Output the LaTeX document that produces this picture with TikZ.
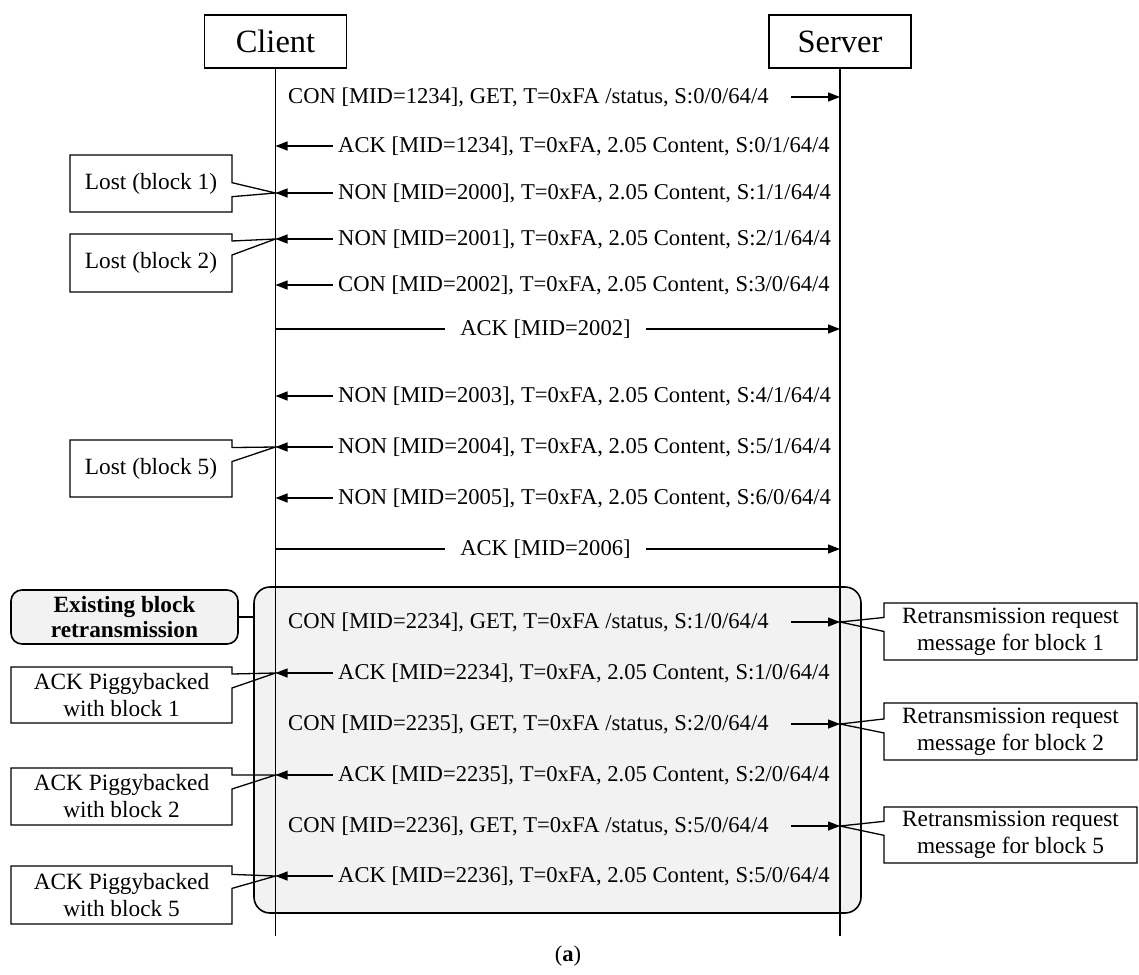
\documentclass[tikz,border=0pt]{standalone}
\usepackage{fontspec}
\setmainfont{Liberation Serif}
\usetikzlibrary{shapes.callouts, arrows.meta, positioning}
\definecolor{groupgray}{HTML}{F2F2F2}
\tikzstyle{party} = [
  rectangle,
  minimum width=142pt,
  minimum height=53pt,
  text centered,
  draw=black,
  line width=1.6pt,
  inner sep=0,
  font=\fontsize{32.5}{36}\selectfont
]
\tikzstyle{msg} = [
  inner xsep=5pt,
  inner ysep=0,
  font=\fontsize{22.6}{26}\selectfont
]
\tikzstyle{callnote} = [
  rectangle callout,
  minimum height=57pt,
  text centered,
  align=center,
  draw=black,
  line width=1.3pt,
  inner sep=0,
  callout pointer width=14pt,
  font=\fontsize{23.3}{27}\selectfont
]
\tikzstyle{groupbox} = [
  rectangle,
  rounded corners=16pt,
  draw=black,
  line width=1.6pt,
  fill=groupgray,
  inner sep=0
]
\tikzstyle{grouplabel} = [
  rectangle,
  rounded corners=11pt,
  minimum width=227pt,
  minimum height=54pt,
  align=center,
  draw=black,
  line width=1.6pt,
  fill=groupgray,
  inner sep=0,
  font=\fontsize{23.3}{25}\selectfont\bfseries
]
\tikzstyle{lifeline} = [line width=1.3pt]
\tikzstyle{msgline} = [line width=1.3pt]
\tikzstyle{msgarrow} = [
  line width=1.3pt,
  -{Triangle[length=12pt,width=9pt]}
]

\begin{document}
\begin{tikzpicture}[x=1pt,y=-1pt]
      \useasboundingbox (0,0) rectangle (1139,974);

      \node [groupbox, minimum width=607pt, minimum height=326pt] (retx group) at (557.5,750) {};
      \node [grouplabel] (retx label) at (124.5,617) {Existing block\\retransmission};
      \draw [msgline] (retx label.east) -- (retx label.east -| retx group.west);

      \node [party] (client) at (275.5,41.5) {Client};
      \node [party] (server) at (840,41.5) {Server};
      \coordinate (client end) at (275.5,936);
      \coordinate (server end) at (840,936);
      \draw [lifeline] (client) -- (client end);
      \draw [lifeline] (server) -- (server end);

      \node [msg, anchor=west] (get1234) at (283,97) {CON [MID=1234], GET, T=0xFA /status, S:0/0/64/4};
      \node [msg, anchor=west] (ack1234) at (333,146) {ACK [MID=1234], T=0xFA, 2.05 Content, S:0/1/64/4};
      \node [msg, anchor=west] (non2000) at (333,193) {NON [MID=2000], T=0xFA, 2.05 Content, S:1/1/64/4};
      \node [msg, anchor=west] (non2001) at (333,239) {NON [MID=2001], T=0xFA, 2.05 Content, S:2/1/64/4};
      \node [msg, anchor=west] (con2002) at (333,285) {CON [MID=2002], T=0xFA, 2.05 Content, S:3/0/64/4};
      \node [msg, inner xsep=15pt] (ack2002) at (545.5,329) {ACK [MID=2002]};
      \node [msg, anchor=west] (non2003) at (333,396) {NON [MID=2003], T=0xFA, 2.05 Content, S:4/1/64/4};
      \node [msg, anchor=west] (non2004) at (333,447) {NON [MID=2004], T=0xFA, 2.05 Content, S:5/1/64/4};
      \node [msg, anchor=west] (non2005) at (333,498) {NON [MID=2005], T=0xFA, 2.05 Content, S:6/0/64/4};
      \node [msg, inner xsep=15pt] (ack2006) at (545.5,549) {ACK [MID=2006]};
      \node [msg, anchor=west] (get2234) at (283,622) {CON [MID=2234], GET, T=0xFA /status, S:1/0/64/4};
      \node [msg, anchor=west] (ack2234) at (333,673) {ACK [MID=2234], T=0xFA, 2.05 Content, S:1/0/64/4};
      \node [msg, anchor=west] (get2235) at (283,724) {CON [MID=2235], GET, T=0xFA /status, S:2/0/64/4};
      \node [msg, anchor=west] (ack2235) at (333,775) {ACK [MID=2235], T=0xFA, 2.05 Content, S:2/0/64/4};
      \node [msg, anchor=west] (get2236) at (283,826) {CON [MID=2236], GET, T=0xFA /status, S:5/0/64/4};
      \node [msg, anchor=west] (ack2236) at (333,876) {ACK [MID=2236], T=0xFA, 2.05 Content, S:5/0/64/4};

      \draw [msgarrow] ([xshift=17pt]get1234.east) -- (get1234.east -| server end);
      \draw [msgarrow] (ack1234.west) -- (ack1234.west -| client end);
      \draw [msgarrow] (non2000.west) -- (non2000.west -| client end);
      \draw [msgarrow] (non2001.west) -- (non2001.west -| client end);
      \draw [msgarrow] (con2002.west) -- (con2002.west -| client end);
      \draw [msgline] (ack2002.west -| client end) -- (ack2002.west);
      \draw [msgarrow] (ack2002.east) -- (ack2002.east -| server end);
      \draw [msgarrow] (non2003.west) -- (non2003.west -| client end);
      \draw [msgarrow] (non2004.west) -- (non2004.west -| client end);
      \draw [msgarrow] (non2005.west) -- (non2005.west -| client end);
      \draw [msgline] (ack2006.west -| client end) -- (ack2006.west);
      \draw [msgarrow] (ack2006.east) -- (ack2006.east -| server end);
      \draw [msgarrow] ([xshift=17pt]get2234.east) -- (get2234.east -| server end);
      \draw [msgarrow] (ack2234.west) -- (ack2234.west -| client end);
      \draw [msgarrow] ([xshift=17pt]get2235.east) -- (get2235.east -| server end);
      \draw [msgarrow] (ack2235.west) -- (ack2235.west -| client end);
      \draw [msgarrow] ([xshift=17pt]get2236.east) -- (get2236.east -| server end);
      \draw [msgarrow] (ack2236.west) -- (ack2236.west -| client end);

      \node [callnote, minimum width=162pt, callout absolute pointer={(non2000.west -| client end)}] (lost1) at (151,183.5) {Lost (block 1)};
      \node [callnote, minimum width=162pt, minimum height=58pt, callout absolute pointer={(non2001.west -| client end)}] (lost2) at (151,263) {Lost (block 2)};
      \node [callnote, minimum width=162pt, callout absolute pointer={(non2004.west -| client end)}] (lost5) at (151,468.5) {Lost (block 5)};
      \node [callnote, minimum width=221pt, minimum height=56pt, callout absolute pointer={(ack2234.west -| client end)}] (piggy1) at (121.5,695) {ACK Piggybacked\\with block 1};
      \node [callnote, minimum width=221pt, callout absolute pointer={(ack2235.west -| client end)}] (piggy2) at (121.5,796.5) {ACK Piggybacked\\with block 2};
      \node [callnote, minimum width=221pt, minimum height=58pt, callout absolute pointer={(ack2236.west -| client end)}] (piggy5) at (121.5,895) {ACK Piggybacked\\with block 5};
      \node [callnote, minimum width=253pt, callout absolute pointer={(get2234.east -| server end)}] (retx1) at (1010.5,631.5) {Retransmission request\\message for block 1};
      \node [callnote, minimum width=253pt, callout absolute pointer={(get2235.east -| server end)}] (retx2) at (1010.5,731.5) {Retransmission request\\message for block 2};
      \node [callnote, minimum width=253pt, minimum height=56pt, callout absolute pointer={(get2236.east -| server end)}] (retx5) at (1010.5,835) {Retransmission request\\message for block 5};

      \node [msg] (caption) at (568,956) {({\bfseries a})};

    \end{tikzpicture}
\end{document}
